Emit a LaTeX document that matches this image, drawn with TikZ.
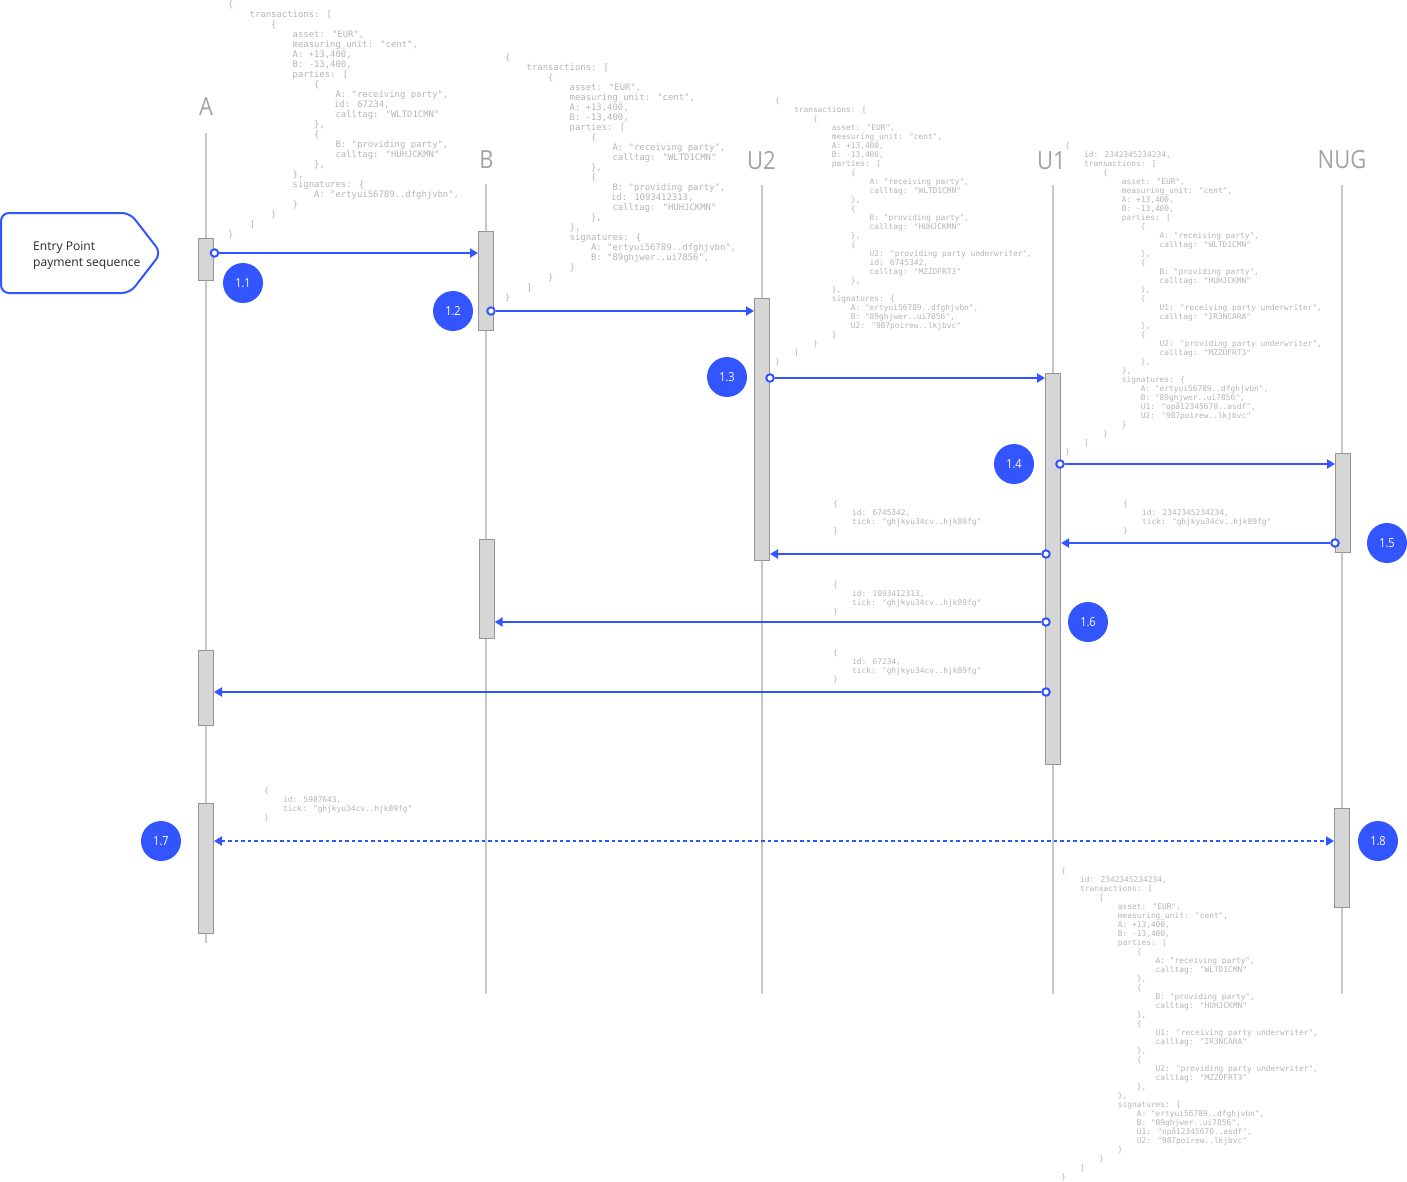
\documentclass[tikz,border=0pt]{standalone}
\usepackage{fontspec}
\setmainfont{Open Sans}
\newfontfamily\headfont[FakeStretch=.88]{Open Sans}
\newfontfamily\jsonfont{DejaVu Sans Mono}
\usetikzlibrary{arrows.meta}
\definecolor{seqblue}{HTML}{3355FF}
\definecolor{jsongray}{HTML}{B4B4B4}
\newcommand{\tb}[1]{\hspace*{#1\dimexpr2.408em\relax}}
\tikzset{
  lifeline/.style={draw=black!22,line width=2pt},
  head/.style={text=black!36,font=\headfont\fontsize{25}{25}\selectfont,inner sep=0pt},
  actbar/.style={draw=black!42,fill=black!16,line width=1pt,minimum width=15pt,inner sep=0pt},
  msg/.style={draw=seqblue,line width=2pt,-{Triangle[length=8pt,width=9pt]}},
  dotstart/.style={circle,draw=seqblue,fill=white,line width=2pt,minimum size=7.5pt,inner sep=0pt},
  badge/.style={circle,fill=seqblue,text=white,minimum size=40pt,inner sep=0pt,font=\headfont\fontsize{12.5}{13}\selectfont},
  jsonbig/.style={anchor=north west,inner sep=0pt,align=left,text=jsongray,font=\jsonfont\fontsize{8.92}{10}\selectfont},
  jsonsmall/.style={anchor=north west,inner sep=0pt,align=left,text=jsongray,font=\jsonfont\fontsize{7.85}{9}\selectfont}
}
\begin{document}
\begin{tikzpicture}[x=1pt,y=-1pt]
  \useasboundingbox (0,0) rectangle (1407,1181);
  % lifelines
  \node[head] (headA) at (206,107) {A};
  \node[head] (headB) at (486.5,160) {B};
  \node[head] (headU2) at (761.5,161) {U2};
  \node[head] (headU1) at (1051.5,161) {U1};
  \node[head] (headN) at (1342,160) {NUG};
  \coordinate (topA) at (206,133);
  \coordinate (topB) at (486,184);
  \coordinate (topU2) at (761.5,185);
  \coordinate (topU1) at (1053,185);
  \coordinate (topN) at (1342,185);
  \coordinate (endA) at (206,943);
  \coordinate (endB) at (486,994);
  \coordinate (endU2) at (761.5,994);
  \coordinate (endU1) at (1053,994);
  \coordinate (endN) at (1342,994);
  \draw[lifeline] (topA) -- (endA);
  \draw[lifeline] (topB) -- (endB);
  \draw[lifeline] (topU2) -- (endU2);
  \draw[lifeline] (topU1) -- (endU1);
  \draw[lifeline] (topN) -- (endN);

  % activation bars
  \node[actbar,minimum height=42pt] (barA1) at (206.2,259) {};
  \node[actbar,minimum height=98.5pt] (barB1) at (486,281) {};
  \node[actbar,minimum height=262pt] (barU2) at (762,429) {};
  \node[actbar,minimum height=391pt] (barU1) at (1053,569) {};
  \node[actbar,minimum height=99pt] (barN1) at (1343,503) {};
  \node[actbar,minimum height=98.5pt] (barB2) at (486.7,589) {};
  \node[actbar,minimum height=75pt] (barA2) at (206,688) {};
  \node[actbar,minimum height=130pt] (barA3) at (206,868.5) {};
  \node[actbar,minimum height=99pt] (barN2) at (1342,858) {};

  % entry point
  \draw[draw=seqblue,line width=2pt,rounded corners=8pt] (1,213) -- (130,213) -- (161,253) -- (130,293) -- (1,293) -- cycle;
  \node[anchor=west,inner sep=0pt,align=left,text=black!85,font=\fontsize{12.1}{16}\selectfont] (entry) at (33,255.5) {Entry Point\\payment sequence};

  % messages
  \node[dotstart] (dot11) at (214.5,253) {};
  \node[dotstart] (dot12) at (491,311) {};
  \node[dotstart] (dot13) at (770,378) {};
  \node[dotstart] (dot14) at (1060,464) {};
  \node[dotstart] (dot15) at (1335,543) {};
  \node[dotstart] (dot16a) at (1046,554) {};
  \node[dotstart] (dot16b) at (1046,622) {};
  \node[dotstart] (dot16c) at (1046,692) {};
  \coordinate (dash78) at (1000,841);
  \draw[msg] (dot11) -- (dot11 -| barB1.west);
  \draw[msg] (dot12) -- (dot12 -| barU2.west);
  \draw[msg] (dot13) -- (dot13 -| barU1.west);
  \draw[msg] (dot14) -- (dot14 -| barN1.west);
  \draw[msg] (dot15) -- (dot15 -| barU1.east);
  \draw[msg] (dot16a) -- (dot16a -| barU2.east);
  \draw[msg] (dot16b) -- (dot16b -| barB2.east);
  \draw[msg] (dot16c) -- (dot16c -| barA2.east);
  \draw[msg,{Triangle[length=8pt,width=9pt]}-{Triangle[length=8pt,width=9pt]},dash pattern=on 3.5pt off 3pt] (dash78 -| barA3.east) -- (dash78 -| barN2.west);

  % step numbers
  \node[badge] (step11) at (243,283) {1.1};
  \node[badge] (step12) at (453,311) {1.2};
  \node[badge] (step13) at (727,377) {1.3};
  \node[badge] (step14) at (1014,464) {1.4};
  \node[badge] (step15) at (1387,543) {1.5};
  \node[badge] (step16) at (1088,622) {1.6};
  \node[badge] (step17) at (161,841) {1.7};
  \node[badge] (step18) at (1378,841) {1.8};

  % payloads
  \node[jsonbig] (jsonA) at (228,1) {\{\\
\tb{1}transactions: [\\
\tb{2}\{\\
\tb{3}asset: "EUR",\\
\tb{3}measuring\_unit: "cent",\\
\tb{3}A: +13,400,\\
\tb{3}B: -13,400,\\
\tb{3}parties: [\\
\tb{4}\{\\
\tb{5}A: "receiving party",\\
\tb{4.93}id: 67234,\\
\tb{5}calltag: "WLTD1CMN"\\
\tb{4}\},\\
\tb{4}\{\\
\tb{5}B: "providing party",\\
\tb{5}calltag: "HUHJCKMN"\\
\tb{4}\},\\
\tb{3}\},\\
\tb{3}signatures: \{\\
\tb{4}A: "ertyui56789..dfghjvbn",\\
\tb{3}\}\\
\tb{2}\}\\
\tb{1}]\\
\}};
  \node[jsonbig] (jsonB) at (505,54) {\{\\
\tb{1}transactions: [\\
\tb{2}\{\\
\tb{3}asset: "EUR",\\
\tb{3}measuring\_unit: "cent",\\
\tb{3}A: +13,400,\\
\tb{3}B: -13,400,\\
\tb{3}parties: [\\
\tb{4}\{\\
\tb{5}A: "receiving party",\\
\tb{5}calltag: "WLTD1CMN"\\
\tb{4}\},\\
\tb{4}\{\\
\tb{5}B: "providing party",\\
\tb{4.93}id: 1093412313,\\
\tb{5}calltag: "HUHJCKMN"\\
\tb{4}\},\\
\tb{3}\},\\
\tb{3}signatures: \{\\
\tb{4}A: "ertyui56789..dfghjvbn",\\
\tb{4}B: "89ghjwer..ui7856",\\
\tb{3}\}\\
\tb{2}\}\\
\tb{1}]\\
\}};
  \node[jsonsmall] (jsonU2) at (775,97) {\{\\
\tb{1}transactions: [\\
\tb{2}\{\\
\tb{3}asset: "EUR",\\
\tb{3}measuring\_unit: "cent",\\
\tb{3}A: +13,400,\\
\tb{3}B: -13,400,\\
\tb{3}parties: [\\
\tb{4}\{\\
\tb{5}A: "receiving party",\\
\tb{5}calltag: "WLTD1CMN"\\
\tb{4}\},\\
\tb{4}\{\\
\tb{5}B: "providing party",\\
\tb{5}calltag: "HUHJCKMN"\\
\tb{4}\},\\
\tb{4}\{\\
\tb{5}U2: "providing party underwriter",\\
\tb{5}id: 6745342,\\
\tb{5}calltag: "MZZOFRT3"\\
\tb{4}\},\\
\tb{3}\},\\
\tb{3}signatures: \{\\
\tb{4}A: "ertyui56789..dfghjvbn",\\
\tb{4}B: "89ghjwer..ui7856",\\
\tb{4}U2: "987poirew..lkjbvc"\\
\tb{3}\}\\
\tb{2}\}\\
\tb{1}]\\
\}};
  \node[jsonsmall] (jsonU1) at (1065,142) {\{\\
\tb{1}id: 2342345234234,\\
\tb{1}transactions: [\\
\tb{2}\{\\
\tb{3}asset: "EUR",\\
\tb{3}measuring\_unit: "cent",\\
\tb{3}A: +13,400,\\
\tb{3}B: -13,400,\\
\tb{3}parties: [\\
\tb{4}\{\\
\tb{5}A: "receiving party",\\
\tb{5}calltag: "WLTD1CMN"\\
\tb{4}\},\\
\tb{4}\{\\
\tb{5}B: "providing party",\\
\tb{5}calltag: "HUHJCKMN"\\
\tb{4}\},\\
\tb{4}\{\\
\tb{5}U1: "receiving party underwriter",\\
\tb{5}calltag: "IR3NCARA"\\
\tb{4}\},\\
\tb{4}\{\\
\tb{5}U2: "providing party underwriter",\\
\tb{5}calltag: "MZZOFRT3"\\
\tb{4}\},\\
\tb{3}\},\\
\tb{3}signatures: \{\\
\tb{4}A: "ertyui56789..dfghjvbn",\\
\tb{4}B: "89ghjwer..ui7856",\\
\tb{4}U1: "opå12345670..asdf",\\
\tb{4}U2: "987poirew..lkjbvc"\\
\tb{3}\}\\
\tb{2}\}\\
\tb{1}]\\
\}};
  \node[jsonsmall] (jsonN) at (1061,867) {\{\\
\tb{1}id: 2342345234234,\\
\tb{1}transactions: [\\
\tb{2}\{\\
\tb{3}asset: "EUR",\\
\tb{3}measuring\_unit: "cent",\\
\tb{3}A: +13,400,\\
\tb{3}B: -13,400,\\
\tb{3}parties: [\\
\tb{4}\{\\
\tb{5}A: "receiving party",\\
\tb{5}calltag: "WLTD1CMN"\\
\tb{4}\},\\
\tb{4}\{\\
\tb{5}B: "providing party",\\
\tb{5}calltag: "HUHJCKMN"\\
\tb{4}\},\\
\tb{4}\{\\
\tb{5}U1: "receiving party underwriter",\\
\tb{5}calltag: "IR3NCARA"\\
\tb{4}\},\\
\tb{4}\{\\
\tb{5}U2: "providing party underwriter",\\
\tb{5}calltag: "MZZOFRT3"\\
\tb{4}\},\\
\tb{3}\},\\
\tb{3}signatures: \{\\
\tb{4}A: "ertyui56789..dfghjvbn",\\
\tb{4}B: "89ghjwer..ui7856",\\
\tb{4}U1: "opå12345670..asdf",\\
\tb{4}U2: "987poirew..lkjbvc"\\
\tb{3}\}\\
\tb{2}\}\\
\tb{1}]\\
\}};
  \node[jsonsmall] (tickN) at (1123,500) {\{\\
\tb{1}id: 2342345234234,\\
\tb{1}tick: "ghjkyu34cv..hjk89fg"\\
\}};
  \node[jsonsmall] (tickU2) at (833,500) {\{\\
\tb{1}id: 6745342,\\
\tb{1}tick: "ghjkyu34cv..hjk89fg"\\
\}};
  \node[jsonsmall] (tickB) at (833,581) {\{\\
\tb{1}id: 1093412313,\\
\tb{1}tick: "ghjkyu34cv..hjk89fg"\\
\}};
  \node[jsonsmall] (tickA) at (833,649) {\{\\
\tb{1}id: 67234,\\
\tb{1}tick: "ghjkyu34cv..hjk89fg"\\
\}};
  \node[jsonsmall] (tickAN) at (264,787) {\{\\
\tb{1}id: 5987643,\\
\tb{1}tick: "ghjkyu34cv..hjk89fg"\\
\}};
\end{tikzpicture}
\end{document}
